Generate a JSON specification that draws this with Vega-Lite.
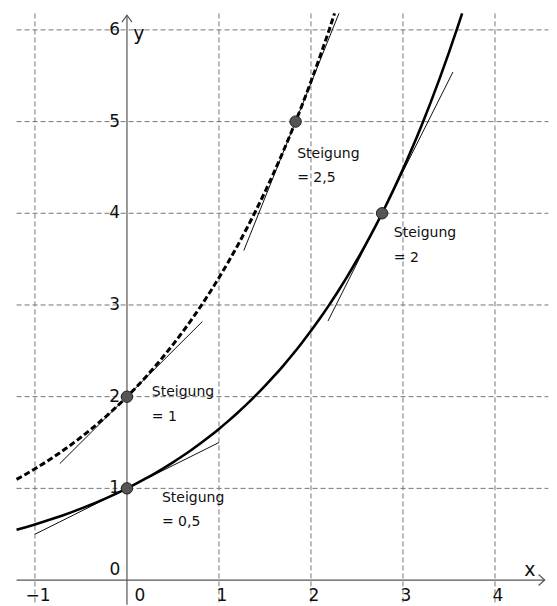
{
  "$schema": "https://vega.github.io/schema/vega-lite/v6.json",
  "width": 557,
  "height": 606,
  "autosize": {"type": "fit", "contains": "padding"},
  "padding": 0,
  "background": "white",
  "config": {"view": {"stroke": null}},
  "datasets": {
    "vgrid": [{"v": -1}, {"v": 1}, {"v": 2}, {"v": 3}, {"v": 4}],
    "hgrid": [{"v": 1}, {"v": 2}, {"v": 3}, {"v": 4}, {"v": 5}, {"v": 6}],
    "solid": [
      {"x": -1.2, "y": 0.54881}, {"x": -1.1, "y": 0.57695},
      {"x": -1.0, "y": 0.60653}, {"x": -0.9, "y": 0.63763}, {"x": -0.8, "y": 0.67032}, {"x": -0.7, "y": 0.70469},
      {"x": -0.6, "y": 0.74082}, {"x": -0.5, "y": 0.7788}, {"x": -0.4, "y": 0.81873}, {"x": -0.3, "y": 0.86071},
      {"x": -0.2, "y": 0.90484}, {"x": -0.1, "y": 0.95123}, {"x": 0.0, "y": 1.0}, {"x": 0.1, "y": 1.05127},
      {"x": 0.2, "y": 1.10517}, {"x": 0.3, "y": 1.16183}, {"x": 0.4, "y": 1.2214}, {"x": 0.5, "y": 1.28403},
      {"x": 0.6, "y": 1.34986}, {"x": 0.7, "y": 1.41907}, {"x": 0.8, "y": 1.49182}, {"x": 0.9, "y": 1.56831},
      {"x": 1.0, "y": 1.64872}, {"x": 1.1, "y": 1.73325}, {"x": 1.2, "y": 1.82212}, {"x": 1.3, "y": 1.91554},
      {"x": 1.4, "y": 2.01375}, {"x": 1.5, "y": 2.117}, {"x": 1.6, "y": 2.22554}, {"x": 1.7, "y": 2.33965},
      {"x": 1.8, "y": 2.4596}, {"x": 1.9, "y": 2.58571}, {"x": 2.0, "y": 2.71828}, {"x": 2.1, "y": 2.85765},
      {"x": 2.2, "y": 3.00417}, {"x": 2.3, "y": 3.15819}, {"x": 2.4, "y": 3.32012}, {"x": 2.5, "y": 3.49034},
      {"x": 2.6, "y": 3.6693}, {"x": 2.7, "y": 3.85743}, {"x": 2.8, "y": 4.0552}, {"x": 2.9, "y": 4.26311},
      {"x": 3.0, "y": 4.48169}, {"x": 3.1, "y": 4.71147}, {"x": 3.2, "y": 4.95303}, {"x": 3.3, "y": 5.20698},
      {"x": 3.4, "y": 5.47395}, {"x": 3.5, "y": 5.7546}, {"x": 3.6, "y": 6.04965}, {"x": 3.643, "y": 6.18}
    ],
    "dashed": [
      {"x": -1.2, "y": 1.09762}, {"x": -1.1, "y": 1.1539},
      {"x": -1.0, "y": 1.21306}, {"x": -0.9, "y": 1.27526}, {"x": -0.8, "y": 1.34064}, {"x": -0.7, "y": 1.40938},
      {"x": -0.6, "y": 1.48164}, {"x": -0.5, "y": 1.5576}, {"x": -0.4, "y": 1.63746}, {"x": -0.3, "y": 1.72142},
      {"x": -0.2, "y": 1.80968}, {"x": -0.1, "y": 1.90246}, {"x": 0.0, "y": 2.0}, {"x": 0.1, "y": 2.10254},
      {"x": 0.2, "y": 2.21034}, {"x": 0.3, "y": 2.32366}, {"x": 0.4, "y": 2.4428}, {"x": 0.5, "y": 2.56806},
      {"x": 0.6, "y": 2.69972}, {"x": 0.7, "y": 2.83814}, {"x": 0.8, "y": 2.98364}, {"x": 0.9, "y": 3.13662},
      {"x": 1.0, "y": 3.29744}, {"x": 1.1, "y": 3.4665}, {"x": 1.2, "y": 3.64424}, {"x": 1.3, "y": 3.83108},
      {"x": 1.4, "y": 4.0275}, {"x": 1.5, "y": 4.234}, {"x": 1.6, "y": 4.45108}, {"x": 1.7, "y": 4.6793},
      {"x": 1.8, "y": 4.9192}, {"x": 1.9, "y": 5.17142}, {"x": 2.0, "y": 5.43656}, {"x": 2.1, "y": 5.7153},
      {"x": 2.2, "y": 6.00834}, {"x": 2.256, "y": 6.18}
    ],
    "tangents": [
      {"seg": "t1", "x": -1.0, "y": 0.5}, {"seg": "t1", "x": 1.0, "y": 1.5},
      {"seg": "t2", "x": -0.73, "y": 1.27}, {"seg": "t2", "x": 0.82, "y": 2.82},
      {"seg": "t3", "x": 1.27, "y": 3.594}, {"seg": "t3", "x": 2.304, "y": 6.18},
      {"seg": "t4", "x": 2.185, "y": 2.825}, {"seg": "t4", "x": 3.543, "y": 5.541}
    ],
    "points": [
      {"x": 0, "y": 1}, {"x": 0, "y": 2}, {"x": 1.8326, "y": 5}, {"x": 2.7726, "y": 4}
    ],
    "notes": [
      {"x": 0.38, "y": 0.9, "t": "Steigung"}, {"x": 0.38, "y": 0.63, "t": "= 0,5"},
      {"x": 0.27, "y": 2.05, "t": "Steigung"}, {"x": 0.27, "y": 1.78, "t": "= 1"},
      {"x": 1.85, "y": 4.65, "t": "Steigung"}, {"x": 1.85, "y": 4.38, "t": "= 2,5"},
      {"x": 2.9, "y": 3.78, "t": "Steigung"}, {"x": 2.9, "y": 3.51, "t": "= 2"}
    ],
    "xlabels": [{"v": -1, "t": "−1"}, {"v": 1, "t": "1"}, {"v": 2, "t": "2"}, {"v": 3, "t": "3"}, {"v": 4, "t": "4"}],
    "ylabels": [{"v": 1, "t": "1"}, {"v": 2, "t": "2"}, {"v": 3, "t": "3"}, {"v": 4, "t": "4"}, {"v": 5, "t": "5"}, {"v": 6, "t": "6"}]
  },
  "encoding": {
    "x": {"type": "quantitative", "scale": {"domain": [-1.38, 4.674], "nice": false, "zero": false}, "axis": null},
    "y": {"type": "quantitative", "scale": {"domain": [-0.261, 6.326], "nice": false, "zero": false}, "axis": null}
  },
  "layer": [
    {
      "data": {"name": "vgrid"},
      "mark": {"type": "rule", "stroke": "#777777", "strokeWidth": 1, "strokeDash": [5, 3]},
      "encoding": {
        "x": {"field": "v", "type": "quantitative"},
        "y": {"datum": 6.18},
        "y2": {"datum": -0.27}
      }
    },
    {
      "data": {"name": "hgrid"},
      "mark": {"type": "rule", "stroke": "#777777", "strokeWidth": 1, "strokeDash": [5, 3]},
      "encoding": {
        "y": {"field": "v", "type": "quantitative"},
        "x": {"datum": -1.2},
        "x2": {"datum": 4.58}
      }
    },
    {
      "data": {"values": [{"a": 1}]},
      "mark": {"type": "rule", "stroke": "#555555", "strokeWidth": 1.2},
      "encoding": {"y": {"datum": 0}, "x": {"datum": -1.2}, "x2": {"datum": 4.54}}
    },
    {
      "data": {"values": [{"a": 1}]},
      "mark": {"type": "rule", "stroke": "#555555", "strokeWidth": 1.2},
      "encoding": {"x": {"datum": 0}, "y": {"datum": -0.27}, "y2": {"datum": 6.16}}
    },
    {
      "data": {"values": [{"a": 1}]},
      "mark": {"type": "point", "shape": "M -1.1 -1 L 0 0 L -1.1 1", "size": 121, "filled": false, "stroke": "#555555", "strokeWidth": 1.2, "opacity": 1},
      "encoding": {"x": {"datum": 4.54}, "y": {"datum": 0}}
    },
    {
      "data": {"values": [{"a": 1}]},
      "mark": {"type": "point", "shape": "M -1 1.4 L 0 0 L 1 1.4", "size": 100, "filled": false, "stroke": "#555555", "strokeWidth": 1.2, "opacity": 1},
      "encoding": {"x": {"datum": 0}, "y": {"datum": 6.16}}
    },
    {
      "data": {"name": "tangents"},
      "mark": {"type": "line", "stroke": "#111111", "strokeWidth": 1},
      "encoding": {
        "x": {"field": "x", "type": "quantitative"},
        "y": {"field": "y", "type": "quantitative"},
        "detail": {"field": "seg", "type": "nominal"}
      }
    },
    {
      "data": {"name": "solid"},
      "mark": {"type": "line", "stroke": "#000000", "strokeWidth": 2.6, "clip": true, "interpolate": "monotone"},
      "encoding": {
        "x": {"field": "x", "type": "quantitative"},
        "y": {"field": "y", "type": "quantitative"}
      }
    },
    {
      "data": {"name": "dashed"},
      "mark": {"type": "line", "stroke": "#000000", "strokeWidth": 3, "strokeDash": [6, 3], "clip": true, "interpolate": "monotone"},
      "encoding": {
        "x": {"field": "x", "type": "quantitative"},
        "y": {"field": "y", "type": "quantitative"}
      }
    },
    {
      "data": {"name": "points"},
      "mark": {"type": "point", "shape": "circle", "size": 130, "filled": true, "fill": "#555555", "stroke": "#222222", "strokeWidth": 1, "opacity": 1},
      "encoding": {
        "x": {"field": "x", "type": "quantitative"},
        "y": {"field": "y", "type": "quantitative"}
      }
    },
    {
      "data": {"name": "notes"},
      "mark": {"type": "text", "align": "left", "baseline": "middle", "font": "DejaVu Sans", "fontSize": 14, "fill": "#111111"},
      "encoding": {
        "x": {"field": "x", "type": "quantitative"},
        "y": {"field": "y", "type": "quantitative"},
        "text": {"field": "t"}
      }
    },
    {
      "data": {"name": "xlabels"},
      "mark": {"type": "text", "align": "center", "baseline": "middle", "dx": 3, "dy": 16, "font": "DejaVu Sans", "fontSize": 17, "fill": "#111111"},
      "encoding": {
        "x": {"field": "v", "type": "quantitative"},
        "y": {"datum": 0},
        "text": {"field": "t"}
      }
    },
    {
      "data": {"name": "ylabels"},
      "mark": {"type": "text", "align": "right", "baseline": "middle", "dx": -7, "dy": 0, "font": "DejaVu Sans", "fontSize": 17, "fill": "#111111"},
      "encoding": {
        "y": {"field": "v", "type": "quantitative"},
        "x": {"datum": 0},
        "text": {"field": "t"}
      }
    },
    {
      "data": {"values": [{"t": "0"}]},
      "mark": {"type": "text", "align": "center", "baseline": "middle", "dx": 13, "dy": 16, "font": "DejaVu Sans", "fontSize": 17, "fill": "#111111"},
      "encoding": {"x": {"datum": 0}, "y": {"datum": 0}, "text": {"field": "t"}}
    },
    {
      "data": {"values": [{"t": "0"}]},
      "mark": {"type": "text", "align": "center", "baseline": "middle", "dx": -12, "dy": -10, "font": "DejaVu Sans", "fontSize": 17, "fill": "#111111"},
      "encoding": {"x": {"datum": 0}, "y": {"datum": 0}, "text": {"field": "t"}}
    },
    {
      "data": {"values": [{"t": "x", "x": 4.38, "y": 0.11}, {"t": "y", "x": 0.13, "y": 5.95}]},
      "mark": {"type": "text", "align": "center", "baseline": "middle", "font": "DejaVu Sans", "fontSize": 19, "fill": "#111111"},
      "encoding": {
        "x": {"field": "x", "type": "quantitative"},
        "y": {"field": "y", "type": "quantitative"},
        "text": {"field": "t"}
      }
    }
  ]
}
